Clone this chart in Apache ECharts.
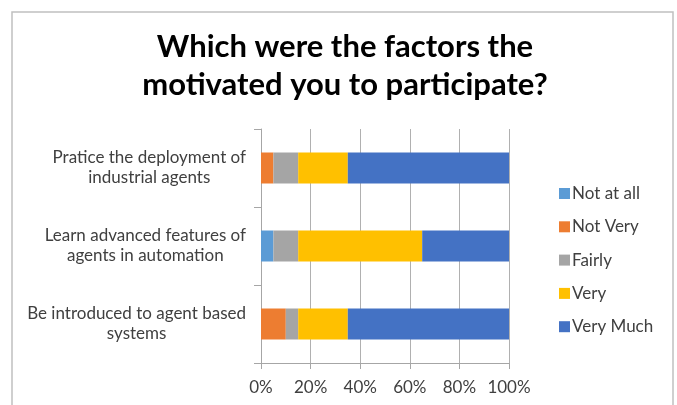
<!DOCTYPE html>
<html>
<head>
<meta charset="utf-8">
<script src="https://cdn.jsdelivr.net/npm/echarts@6/dist/echarts.min.js"></script>
<style>html,body{margin:0;padding:0;background:#fff}#c{width:677px;height:405px}</style>
</head>
<body>
<div id="c"></div>
<script>
var titleText = 'Which were the factors the\nmotivated you to participate?';
var categories = [
  'Pratice the deployment of\nindustrial agents',
  'Learn advanced features of\nagents in automation',
  'Be introduced to agent based\nsystems'
];
var seriesNames = ['Not at all', 'Not Very', 'Fairly', 'Very', 'Very Much'];
var notAtAll = [0, 5, 0];
var notVery  = [5, 0, 10];
var fairly   = [10, 10, 5];
var very     = [20, 50, 20];
var veryMuch = [65, 35, 65];
var xTicks = [0, 20, 40, 60, 80, 100];
var colors = ['#5B9BD5', '#ED7D31', '#A5A5A5', '#FFC000', '#4472C4'];

var values = [notAtAll, notVery, fairly, very, veryMuch];
var FONT = 'Lato';
var chart = echarts.init(document.getElementById('c'), null, {renderer: 'canvas'});
var series = seriesNames.map(function (n, i) {
  return {
    name: n, type: 'bar', stack: 'total', barWidth: 31,
    itemStyle: {color: colors[i]},
    data: values[i]
  };
});
chart.setOption({
  animation: false,
  textStyle: {fontFamily: FONT},
  graphic: [{
    type: 'rect', shape: {x: 12, y: 12, width: 661, height: 400},
    style: {fill: null, stroke: '#c0c0c0', lineWidth: 1.5}, silent: true, z: -1
  }],
  title: {
    text: titleText, left: 340, textAlign: 'center', top: 23,
    textStyle: {fontFamily: FONT, fontSize: 31, fontWeight: 'bold', color: '#000', lineHeight: 38}
  },
  legend: {
    orient: 'vertical', left: 554, top: 180, itemWidth: 11, itemHeight: 11, itemGap: 16.3,
    icon: 'rect',
    textStyle: {fontFamily: FONT, fontSize: 17, color: '#404040', padding: [0, 0, 0, -3]},
    data: seriesNames
  },
  grid: {left: 261, top: 129, right: 168, bottom: 42, containLabel: false},
  xAxis: {
    type: 'value', min: 0, max: 100, interval: 20,
    axisLine: {show: true, lineStyle: {color: '#a6a6a6'}},
    axisTick: {show: true, length: 6, lineStyle: {color: '#a6a6a6'}},
    axisLabel: {fontFamily: FONT, fontSize: 17, color: '#404040', margin: 16,
      formatter: function (v) { return xTicks.indexOf(v) >= 0 ? v + '%' : ''; }},
    splitLine: {show: true, lineStyle: {color: '#b0b0b0'}}
  },
  yAxis: {
    type: 'category', inverse: true, data: categories,
    axisLine: {show: true, lineStyle: {color: '#a6a6a6'}},
    axisTick: {show: true, length: 7, lineStyle: {color: '#a6a6a6'}},
    axisLabel: {
      margin: 15, color: '#404040', fontFamily: FONT, fontSize: 17,
      formatter: function (v) {
        return v.split('\n').map(function (l) { return '{c|' + l + '}'; }).join('\n');
      },
      rich: {c: {align: 'center', fontFamily: FONT, fontSize: 17, color: '#404040', lineHeight: 20}}
    }
  },
  series: series
});
</script>
</body>
</html>
